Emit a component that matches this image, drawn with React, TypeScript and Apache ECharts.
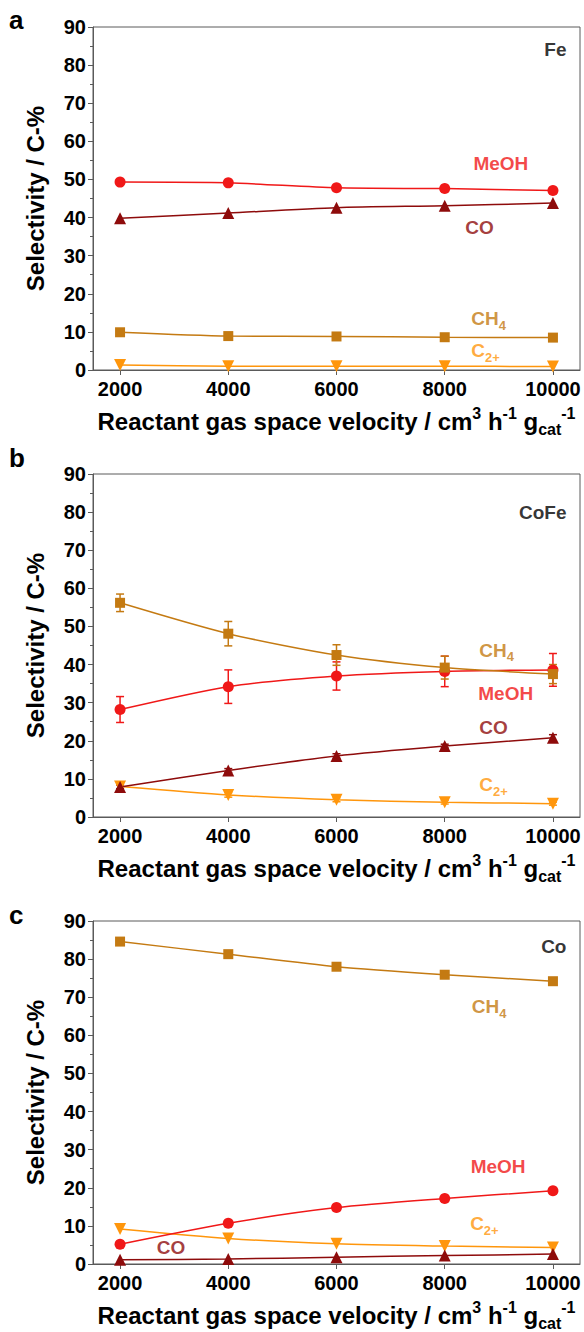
import React, { useEffect, useRef } from "react";
import * as echarts from "echarts";

// ---------- data ----------
const velocities = [2000, 4000, 6000, 8000, 10000];
const xTickValues = [2000, 4000, 6000, 8000, 10000];
const panelLetters = ["a", "b", "c"];
const catalysts = ["Fe", "CoFe", "Co"];

// Panel a – Fe
const feMeOH = [49.3, 49.1, 47.8, 47.6, 47.1];
const feCO = [39.8, 41.2, 42.6, 43.1, 43.8];
const feCH4 = [9.9, 8.9, 8.8, 8.6, 8.5];
const feC2 = [1.3, 1.0, 1.0, 1.0, 0.9];

// Panel b – CoFe (with error bars)
const cofeMeOH = [28.2, 34.2, 37.0, 38.2, 38.6];
const cofeMeOHErr = [3.4, 4.4, 3.7, 4.0, 4.3];
const cofeCO = [7.9, 12.2, 16.0, 18.6, 20.8];
const cofeCOErr = [0.5, 0.5, 0.6, 0.5, 0.8];
const cofeCH4 = [56.2, 48.1, 42.5, 39.2, 37.5];
const cofeCH4Err = [2.3, 3.2, 2.7, 3.0, 2.5];
const cofeC2 = [8.0, 5.8, 4.5, 3.9, 3.5];
const cofeC2Err = [0.7, 0.6, 0.5, 0.5, 0.4];

// Panel c – Co
const coMeOH = [5.2, 10.7, 14.8, 17.2, 19.2];
const coCO = [1.1, 1.3, 1.8, 2.2, 2.6];
const coCH4 = [84.6, 81.3, 78.0, 75.9, 74.2];
const coC2 = [9.2, 6.7, 5.3, 4.7, 4.3];

// annotation anchors (data coords) per panel: [x, y]
const labelPosA = { MeOH: [8530, 54.3], CO: [8380, 37.3], CH4: [8490, 13.4], C2: [8490, 5.0], cat: [10250, 84] };
const labelPosB = { MeOH: [8620, 32.5], CO: [8640, 23.6], CH4: [8640, 43.8], C2: [8640, 8.4], cat: [10250, 79.8] };
const labelPosC = { MeOH: [8480, 25.6], CO: [2680, 4.4], CH4: [8500, 67.5], C2: [8470, 10.5], cat: [10250, 83.2] };

// ---------- style ----------
const FONT = "'Liberation Sans', Arial, Helvetica, sans-serif";
const C_MEOH = "#f01818";
const C_CO = "#8e0b0b";
const C_CH4 = "#c47a12";
const C_C2 = "#ff960c";
const INK = "#000";

const gridTops = [27, 474, 921];
const gridHeight = 343;

export default function App() {
  const ref = useRef<HTMLDivElement>(null);

  useEffect(() => {
    document.body.style.margin = "0";
    if (!ref.current) return;
    const chart = echarts.init(ref.current, null, { renderer: "svg" });

    const grids = gridTops.map((t) => ({
      left: 93,
      right: 4,
      top: t,
      height: gridHeight,
      show: true,
      borderColor: "#5a5a5a",
      borderWidth: 1,
      backgroundColor: "transparent",
    }));

    const xName =
      "{t|Reactant gas space velocity / cm}{sup|3}{t| h}{sup|-1}{t| g}{sub|cat}{sup|-1}";

    const xAxes = gridTops.map((_, i) => ({
      type: "value",
      gridIndex: i,
      min: 1500,
      max: 10500,
      splitLine: { show: false },
      axisLine: { show: true, lineStyle: { color: "#5a5a5a", width: 1 } },
      axisTick: { show: true, customValues: xTickValues, length: 5, lineStyle: { color: "#5a5a5a" } },
      axisLabel: {
        customValues: xTickValues,
        formatter: (v: number) => String(v),
        color: INK,
        fontSize: 20,
        fontWeight: "bold",
        fontFamily: FONT,
        margin: 9,
      },
      name: xName,
      nameLocation: "middle",
      nameGap: 35,
      nameTextStyle: {
        fontFamily: FONT,
        color: INK,
        rich: {
          t: { fontSize: 24, fontWeight: "bold", fontFamily: FONT, color: INK, lineHeight: 32, verticalAlign: "middle" },
          sup: { fontSize: 16, fontWeight: "bold", fontFamily: FONT, color: INK, lineHeight: 16, verticalAlign: "top" },
          sub: { fontSize: 16, fontWeight: "bold", fontFamily: FONT, color: INK, lineHeight: 16, verticalAlign: "bottom" },
        },
      },
    }));

    const yAxes = gridTops.map((_, i) => ({
      type: "value",
      gridIndex: i,
      min: 0,
      max: 90,
      interval: 10,
      splitLine: { show: false },
      axisLine: { show: true, lineStyle: { color: "#5a5a5a", width: 1 } },
      axisTick: { show: true, length: 5, lineStyle: { color: "#5a5a5a" } },
      minorTick: { show: true, splitNumber: 2, length: 3, lineStyle: { color: "#5a5a5a" } },
      axisLabel: {
        color: INK,
        fontSize: 20,
        fontWeight: "bold",
        fontFamily: FONT,
        margin: 7,
      },
      name: "Selectivity / C-%",
      nameLocation: "middle",
      nameRotate: 90,
      nameGap: 46,
      nameTextStyle: { fontSize: 24, fontWeight: "bold", fontFamily: FONT, color: INK },
    }));

    const pts = (vals: number[]) => velocities.map((v, i) => [v, vals[i]]);

    const lineSeries = (idx: number, name: string, vals: number[], color: string, symbol: string, rotate = 0) => ({
      type: "line",
      name,
      xAxisIndex: idx,
      yAxisIndex: idx,
      data: pts(vals),
      smooth: 0.25,
      symbol,
      symbolRotate: rotate,
      symbolSize: symbol === "rect" ? 10 : symbol === "circle" ? 11 : 12,
      itemStyle: { color },
      lineStyle: { color, width: 1.5 },
      z: 3,
    });

    const errSeries = (idx: number, vals: number[], errs: number[], color: string) => ({
      type: "custom",
      xAxisIndex: idx,
      yAxisIndex: idx,
      data: velocities.map((v, i) => [v, vals[i] - errs[i], vals[i] + errs[i]]),
      encode: { x: 0, y: [1, 2] },
      z: 2,
      silent: true,
      renderItem: (params: any, api: any) => {
        const x = api.value(0);
        const p1 = api.coord([x, api.value(1)]);
        const p2 = api.coord([x, api.value(2)]);
        const w = 4;
        const style = { stroke: color, lineWidth: 1.5 };
        return {
          type: "group",
          children: [
            { type: "line", shape: { x1: p1[0], y1: p1[1], x2: p2[0], y2: p2[1] }, style },
            { type: "line", shape: { x1: p1[0] - w, y1: p1[1], x2: p1[0] + w, y2: p1[1] }, style },
            { type: "line", shape: { x1: p2[0] - w, y1: p2[1], x2: p2[0] + w, y2: p2[1] }, style },
          ],
        };
      },
    });

    const annot = (idx: number, pos: number[], text: string, color: string, position: string, size = 19) => ({
      type: "scatter",
      xAxisIndex: idx,
      yAxisIndex: idx,
      data: [pos],
      symbolSize: 0,
      silent: true,
      z: 5,
      label: {
        show: true,
        position,
        distance: 0,
        formatter: text,
        color,
        fontSize: size,
        fontWeight: "bold",
        fontFamily: FONT,
        rich: {
          b: { fontSize: size, fontWeight: "bold", fontFamily: FONT, color, lineHeight: 26, verticalAlign: "middle" },
          s: { fontSize: 13, fontWeight: "bold", fontFamily: FONT, color, lineHeight: 13, verticalAlign: "bottom" },
        },
      },
    });

    const annotSet = (idx: number, p: any, cat: string) => [
      annot(idx, p.MeOH, "{b|MeOH}", C_MEOH, "right"),
      annot(idx, p.CO, "{b|CO}", C_CO, "right"),
      annot(idx, p.CH4, "{b|CH}{s|4}", C_CH4, "right"),
      annot(idx, p.C2, "{b|C}{s|2+}", C_C2, "right"),
      annot(idx, p.cat, "{b|" + cat + "}", INK, "left"),
    ];

    const series: any[] = [
      // panel a
      lineSeries(0, "C2+", feC2, C_C2, "triangle", 180),
      lineSeries(0, "CH4", feCH4, C_CH4, "rect"),
      lineSeries(0, "CO", feCO, C_CO, "triangle"),
      lineSeries(0, "MeOH", feMeOH, C_MEOH, "circle"),
      // panel b
      errSeries(1, cofeC2, cofeC2Err, C_C2),
      errSeries(1, cofeCO, cofeCOErr, C_CO),
      errSeries(1, cofeMeOH, cofeMeOHErr, C_MEOH),
      errSeries(1, cofeCH4, cofeCH4Err, C_CH4),
      lineSeries(1, "C2+", cofeC2, C_C2, "triangle", 180),
      lineSeries(1, "CO", cofeCO, C_CO, "triangle"),
      lineSeries(1, "MeOH", cofeMeOH, C_MEOH, "circle"),
      lineSeries(1, "CH4", cofeCH4, C_CH4, "rect"),
      // panel c
      lineSeries(2, "CH4", coCH4, C_CH4, "rect"),
      lineSeries(2, "C2+", coC2, C_C2, "triangle", 180),
      lineSeries(2, "CO", coCO, C_CO, "triangle"),
      lineSeries(2, "MeOH", coMeOH, C_MEOH, "circle"),
      ...annotSet(0, labelPosA, catalysts[0]),
      ...annotSet(1, labelPosB, catalysts[1]),
      ...annotSet(2, labelPosC, catalysts[2]),
    ];

    const letterTops = [7, 445, 902];
    const graphic = panelLetters.map((l, i) => ({
      type: "text",
      left: 9,
      top: letterTops[i],
      style: { text: l, fontSize: 26, fontWeight: "bold", fontFamily: FONT, fill: INK },
    }));

    chart.setOption({
      animation: false,
      backgroundColor: "#ffffff",
      grid: grids,
      xAxis: xAxes,
      yAxis: yAxes,
      series,
      graphic,
    });

    return () => chart.dispose();
  }, []);

  return <div ref={ref} style={{ width: 584, height: 1332 }} />;
}
